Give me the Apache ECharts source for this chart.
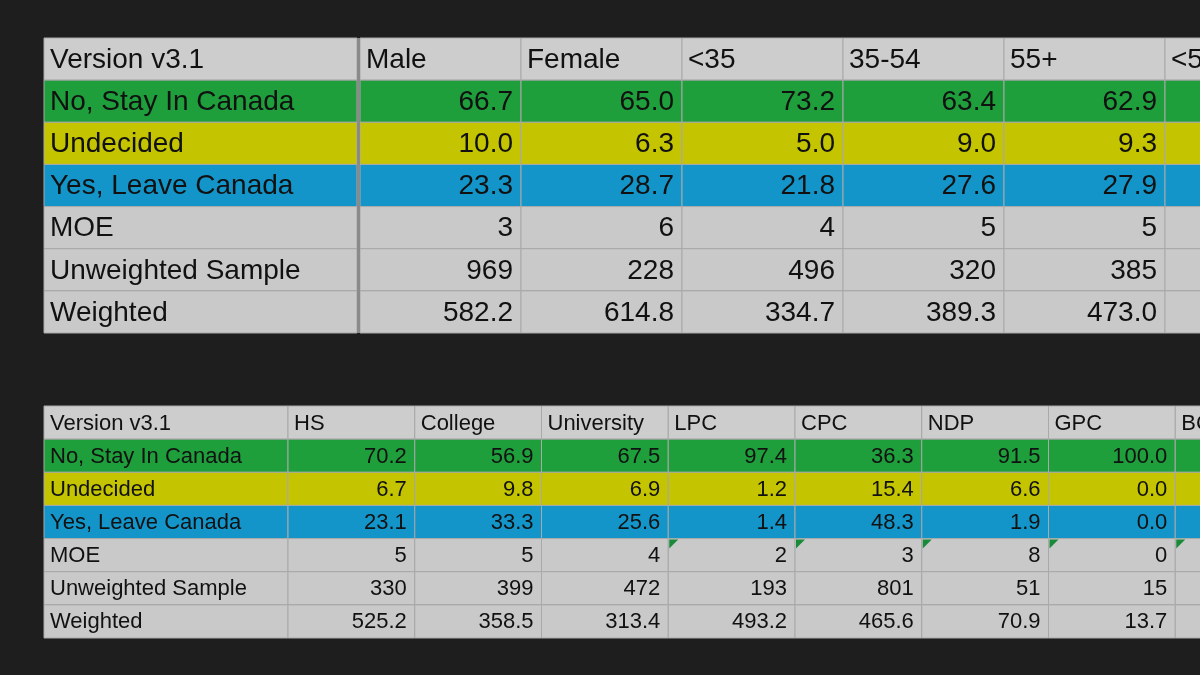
<!DOCTYPE html>
<html><head><meta charset="utf-8">
<script src="https://cdn.jsdelivr.net/npm/echarts@6/dist/echarts.min.js"></script>
<style>html,body{margin:0;background:#1e1e1e}#c{width:1200px;height:675px}</style>
</head><body><div id="c"></div>
<script>
const rowLabels=['Version v3.1','No, Stay In Canada','Undecided','Yes, Leave Canada','MOE','Unweighted Sample','Weighted'];
const t1Cols=['Male','Female','<35','35-54','55+','<55'];
const t1Stay=['66.7','65.0','73.2','63.4','62.9',''];
const t1Und=['10.0','6.3','5.0','9.0','9.3',''];
const t1Leave=['23.3','28.7','21.8','27.6','27.9',''];
const t1Moe=['3','6','4','5','5',''];
const t1Unw=['969','228','496','320','385',''];
const t1W=['582.2','614.8','334.7','389.3','473.0',''];
const t2Cols=['HS','College','University','LPC','CPC','NDP','GPC','BC'];
const t2Stay=['70.2','56.9','67.5','97.4','36.3','91.5','100.0',''];
const t2Und=['6.7','9.8','6.9','1.2','15.4','6.6','0.0',''];
const t2Leave=['23.1','33.3','25.6','1.4','48.3','1.9','0.0',''];
const t2Moe=['5','5','4','2','3','8','0',''];
const t2Unw=['330','399','472','193','801','51','15',''];
const t2W=['525.2','358.5','313.4','493.2','465.6','70.9','13.7',''];
const t2Flag=[0,0,0,1,1,1,1,1];

const fills=['#cdcdcd','#1f9e3c','#c4c400','#1495c9','#c9c9c9','#c9c9c9','#c9c9c9'];
function build(cols,rows){
  const lab=[],dat=[];
  rowLabels.forEach((l,r)=>lab.push([0,r,l,0]));
  cols.forEach((c,i)=>{dat.push([i,0,c,0]);rows.forEach((arr,r)=>dat.push([i,r+1,arr[i],0]));});
  return {lab,dat};
}
const T1=build(t1Cols,[t1Stay,t1Und,t1Leave,t1Moe,t1Unw,t1W]);
const T2=build(t2Cols,[t2Stay,t2Und,t2Leave,t2Moe,t2Unw,t2W]);
T2.dat.forEach(d=>{if(d[1]===4&&t2Flag[d[0]])d[3]=1;});

function rend(fs,isLabel,arr){
  return function(params,api){
    const d=arr[params.dataIndex];
    const c=api.coord([d[0],d[1]]);
    const s=api.size([1,1]);
    const x=c[0]-s[0]/2,y=c[1]-s[1]/2,w=s[0],h=s[1];
    const r=d[1];
    const left=isLabel||r===0;
    const ch=[{type:'rect',shape:{x,y,width:w,height:h},style:{fill:fills[r],stroke:'#a9a9a9',lineWidth:1}},
      {type:'text',style:{text:d[2],x:left?x+6:x+w-8,y:c[1]+1,align:left?'left':'right',verticalAlign:'middle',fontSize:fs,fontFamily:'Liberation Sans, Arial',fill:'#111'}}];
    if(d[3]===1)ch.push({type:'polygon',shape:{points:[[x+1,y+1],[x+10,y+1],[x+1,y+10]]},style:{fill:'#1a8a3a'}});
    return {type:'group',children:ch};
  };
}
const grids=[
  {left:44,top:38,width:313,height:295},
  {left:360,top:38,width:966,height:295},
  {left:44,top:406,width:244,height:232},
  {left:288,top:406,width:1014,height:232}].map(g=>Object.assign(g,{outerBoundsMode:'none',containLabel:false}));
const xAxis=[],yAxis=[];
[['a'],t1Cols,['a'],t2Cols].forEach((c,i)=>{
  xAxis.push({type:'category',gridIndex:i,data:c,show:false});
  yAxis.push({type:'category',gridIndex:i,data:rowLabels,inverse:true,show:false});
});
const mk=(i,fs,isL,arr)=>({type:'custom',xAxisIndex:i,yAxisIndex:i,clip:false,renderItem:rend(fs,isL,arr),data:arr.map(d=>[d[0],d[1]])});
const series=[mk(0,28,true,T1.lab),mk(1,28,false,T1.dat),mk(2,22,true,T2.lab),mk(3,22,false,T2.dat)];
const ch=echarts.init(document.getElementById('c'));
ch.setOption({backgroundColor:'#1e1e1e',animation:false,grid:grids,xAxis,yAxis,series,
  graphic:[{type:'rect',shape:{x:357,y:38,width:3,height:295},style:{fill:'#8a8a8a'},z:10}]});
</script></body></html>
